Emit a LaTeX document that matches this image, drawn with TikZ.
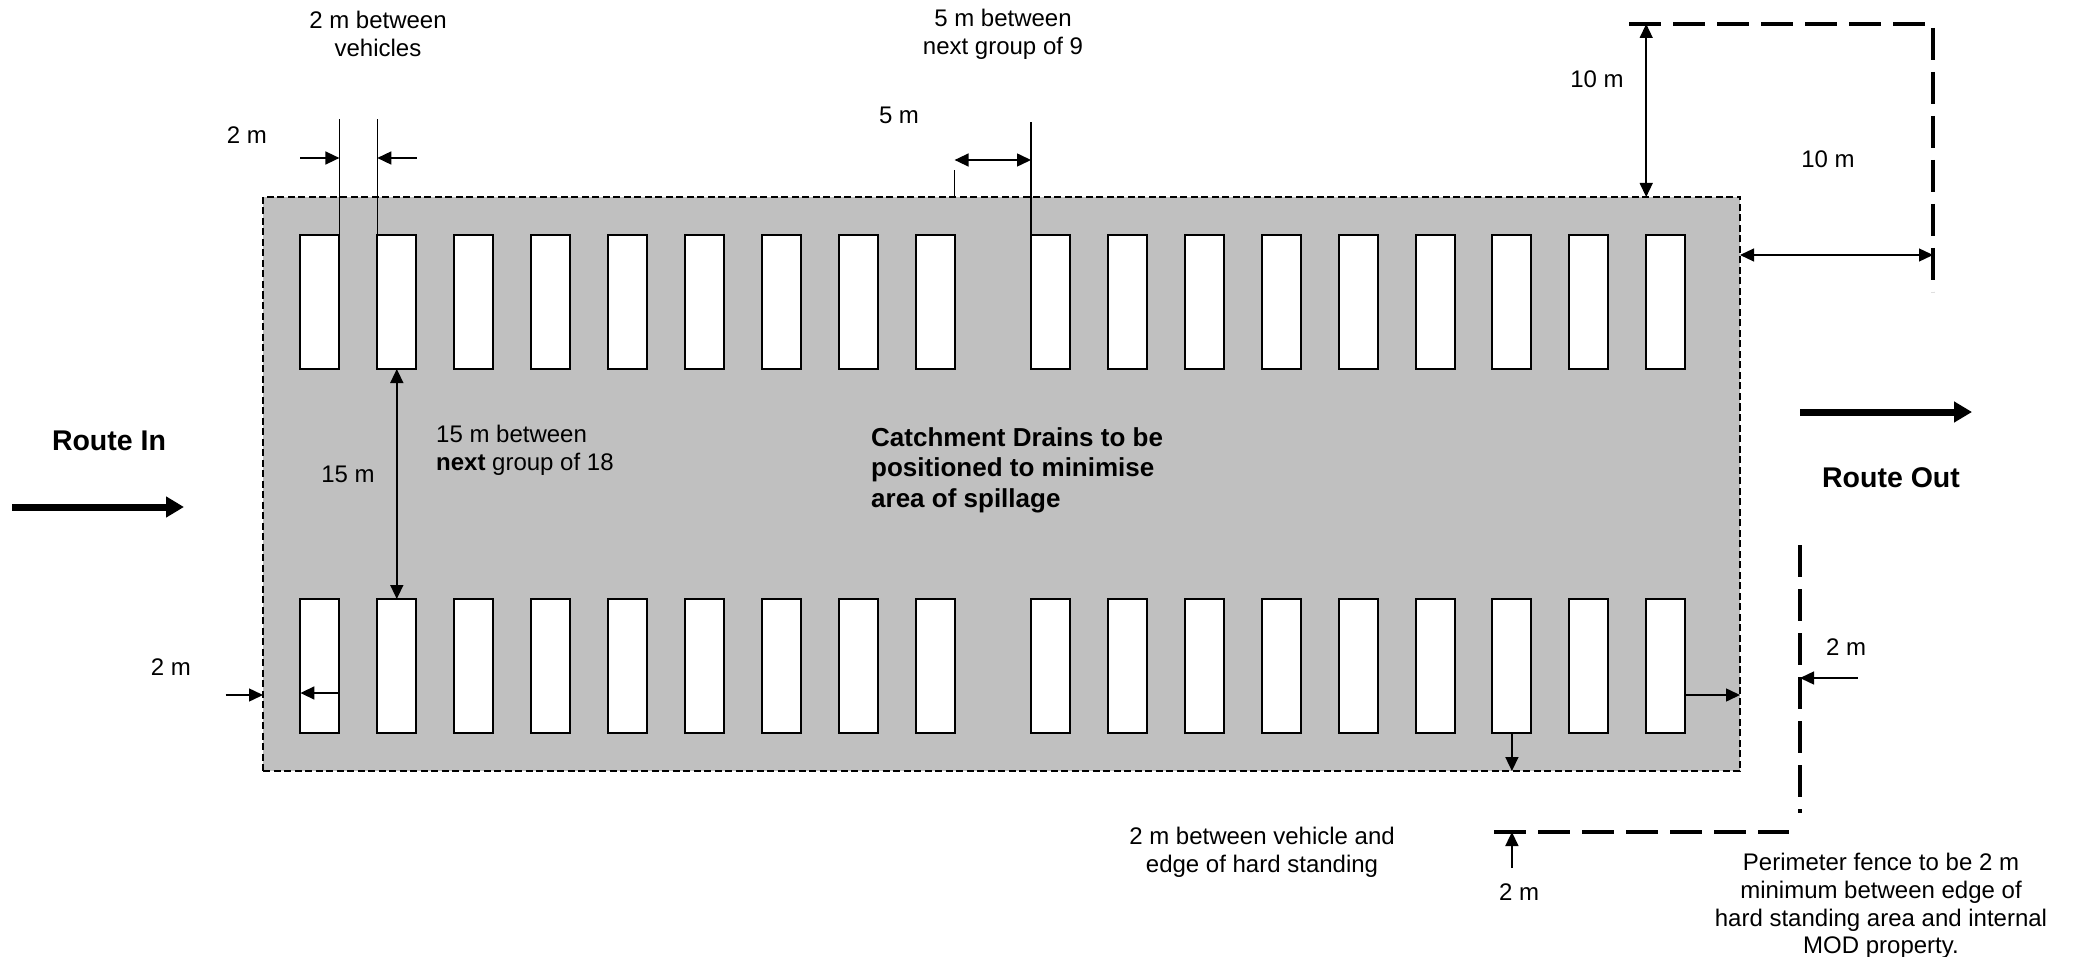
\documentclass[tikz,border=0pt]{standalone}
\usepackage{fontspec}
\setmainfont{Liberation Sans}
\usetikzlibrary{arrows.meta}
\definecolor{hard}{HTML}{C0C0C0}
\begin{document}
\begin{tikzpicture}[x=1pt,y=-1pt,
  veh/.style={draw=black, fill=white, line width=2pt, minimum width=39pt, minimum height=134pt, inner sep=0pt, outer sep=0pt},
  lbl/.style={font=\fontsize{24}{27.8}\selectfont, inner sep=0pt, align=center},
  bigl/.style={font=\fontsize{26}{30.4}\selectfont\bfseries, inner sep=0pt, align=left},
  route/.style={font=\fontsize{28.5}{32}\selectfont\bfseries, inner sep=0pt},
  dim/.style={line width=1.5pt, -{Triangle[length=14pt,width=13pt]}},
  ddim/.style={line width=1.5pt, {Triangle[length=14pt,width=13pt]}-{Triangle[length=14pt,width=13pt]}},
  ext/.style={line width=1.6pt},
  fence/.style={line width=4pt, dash pattern=on 32pt off 12pt},
  routearrow/.style={line width=7pt, -{Triangle[length=18pt,width=20pt]}},
  areabox/.style={draw=black, fill=hard, line width=2pt, dash pattern=on 7pt off 3.5pt, inner sep=0pt, outer sep=0pt}
]
\useasboundingbox (0,0) rectangle (2074,957);

% hard standing area
\node[areabox, minimum width=1477pt, minimum height=574pt, anchor=north west] (area) at (263,197) {};

% vehicles
\foreach \i in {1,...,9} {
  \node[veh] (t\i) at ({319.9+76.9*(\i-1)}, 302) {};
  \node[veh] (b\i) at ({319.9+76.9*(\i-1)}, 666) {};
}
\foreach \i in {10,...,18} {
  \node[veh] (t\i) at ({1050.5+76.9*(\i-10)}, 302) {};
  \node[veh] (b\i) at ({1050.5+76.9*(\i-10)}, 666) {};
}

% helper coordinates
\coordinate (y119) at (0,119);
\coordinate (y160) at (0,160);
\coordinate (y255) at (0,255);
\coordinate (y693) at (0,693);
\coordinate (y695) at (0,695);
\coordinate (a2l) at (300,158);
\coordinate (a2r) at (416.5,158);
\coordinate (bl) at (225.5,695);
\coordinate (rr) at (1857.6,678);
\coordinate (bb) at (1511.9,868);

% fences
\coordinate (f1) at (1629,24);
\coordinate (f2) at (1933,24);
\coordinate (f3) at (1933,292);
\coordinate (f4) at (1800,545);
\coordinate (f5) at (1800,813);
\coordinate (f6) at (1494,832);
\coordinate (f7) at (1789,832);
\draw[fence] (f1) -- (f2) -- (f3);
\draw[fence] (f4) -- (f5);
\draw[fence] (f6) -- (f7);

% 2 m between vehicles
\draw[ext] (t1.north east) -- (t1.north east |- y119);
\draw[ext] (t2.north west) -- (t2.north west |- y119);
\draw[dim] (a2l) -- (a2l -| t1.east);
\draw[dim] (a2r) -- (a2r -| t2.west);

% 5 m between groups
\draw[ext] (t9.east |- area.north) -- ++(0,-27);
\draw[ext] (t10.north west) -- ++(0,-113);
\draw[ddim] (t9.east |- y160) -- (t10.west |- y160);

% 15 m
\draw[ddim] (t2.south) -- (b2.north);

% bottom-left 2 m
\draw[dim] (bl) -- (bl -| area.west);
\draw[dim] (b1.east |- y693) -- (b1.west |- y693);

% right side 2 m
\draw[dim] (b18.east |- y695) -- (area.east |- y695);
\draw[dim] (rr) -- (f4 |- rr);

% bottom 2 m
\draw[dim] (b16.south) -- (b16.south |- area.south);
\draw[dim] (bb) -- (bb |- f6);

% 10 m
\draw[ddim] (t18.west |- area.north) -- (t18.west |- f1);
\draw[ddim, line width=1.2pt] (area.east |- y255) -- (f2 |- y255);

% route arrows
\coordinate (ri1) at (12,507);
\coordinate (ri2) at (184,507);
\coordinate (ro1) at (1800,412);
\coordinate (ro2) at (1972,412);
\draw[routearrow] (ri1) -- (ri2);
\draw[routearrow] (ro1) -- (ro2);

% labels
\node[lbl] (l1) at (378,34) {2 m between\\vehicles};
\node[lbl] (l2) at (1003,34) {5 m between\\next group of 9};
\node[lbl] (l3) at (247,135) {2 m};
\node[lbl] (l4) at (899,115) {5 m};
\node[lbl, align=left, anchor=west] (l5) at (436,450) {15 m between\\\textbf{next} group of 18};
\node[lbl] (l6) at (348,474) {15 m};
\node[route] (l7) at (109,441) {Route In};
\node[bigl, anchor=west] (l8) at (871,470) {Catchment Drains to be\\positioned to minimise\\area of spillage};
\node[lbl] (l9) at (1597,79) {10 m};
\node[lbl] (l10) at (1828,159) {10 m};
\node[route] (l11) at (1891,478) {Route Out};
\node[lbl] (l12) at (1846,647) {2 m};
\node[lbl] (l13) at (171,667) {2 m};
\node[lbl] (l14) at (1519,892) {2 m};
\node[lbl] (l15) at (1262,852) {2 m between vehicle and\\edge of hard standing};
\node[lbl] (l16) at (1881,906) {Perimeter fence to be 2 m\\minimum between edge of\\hard standing area and internal\\MOD property.};
\end{tikzpicture}
\end{document}
